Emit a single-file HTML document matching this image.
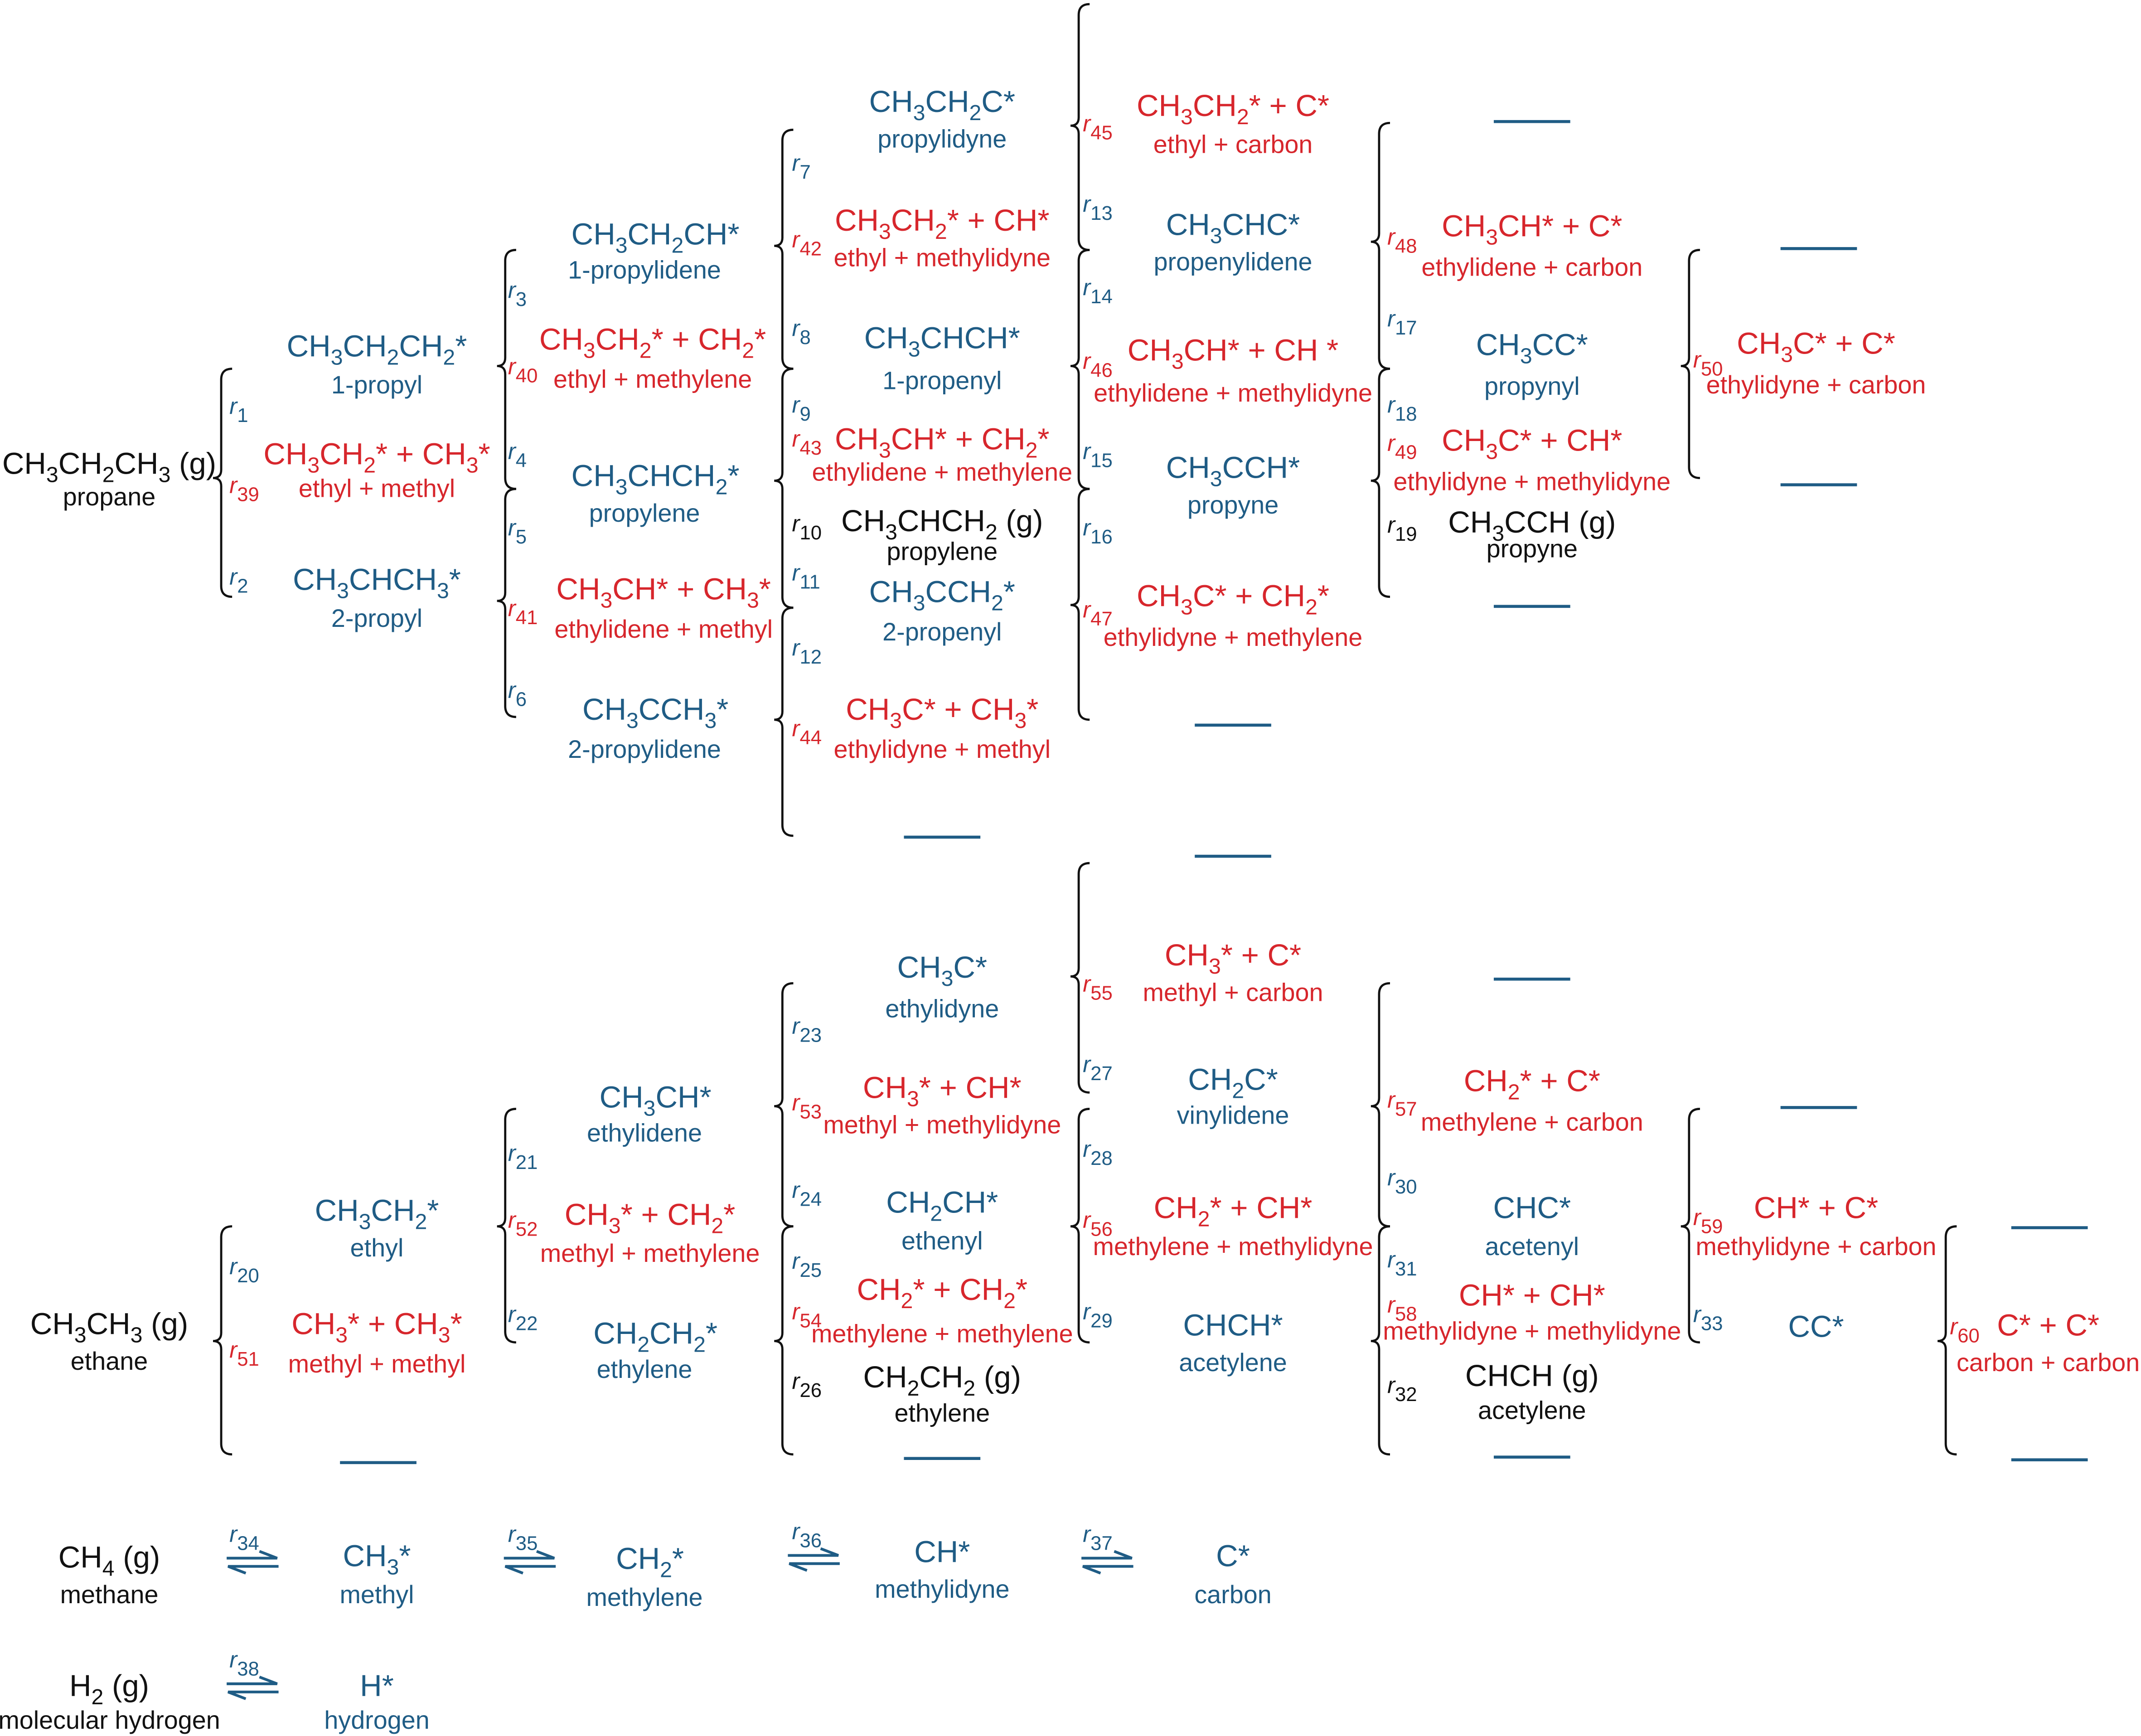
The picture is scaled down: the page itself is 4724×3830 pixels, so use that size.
<!DOCTYPE html>
<html><head><meta charset="utf-8"><style>
html,body{margin:0;padding:0;background:#fff;}
svg{display:block;}
text{font-family:"Liberation Sans",Arial,sans-serif;text-anchor:middle;}
.f{font-size:22.3px;}
.n{font-size:18.5px;}
.b{fill:#1f5c85;}
.r{fill:#d7262c;}
.k{fill:#111;}
.s{font-size:16px;baseline-shift:-6px;}
.rl{font-size:17px;text-anchor:start;}
.rl .i{font-style:italic;}
.rl .s{font-size:14.5px;}
.br{fill:none;stroke:#111;stroke-width:1.6;}
.ln{stroke:#1f5c85;stroke-width:2.2;}
.ar{stroke:#1f5c85;stroke-width:2;fill:none;}
</style></head><body>
<svg width="4724" height="3830" viewBox="0 0 1568 1271.2" xmlns="http://www.w3.org/2000/svg">
<g class="br">
<path d="M170,270 Q162,270 162,278 L162,344 Q162,350 156,350 Q162,350 162,356 L162,429 Q162,437 170,437"/>
<path d="M378,183 Q370,183 370,191 L370,262 Q370,268 364,268 Q370,268 370,274 L370,350 Q370,358 378,358"/>
<path d="M378,358 Q370,358 370,366 L370,434 Q370,440 364,440 Q370,440 370,446 L370,517 Q370,525 378,525"/>
<path d="M581,95 Q573,95 573,103 L573,174 Q573,180 567,180 Q573,180 573,186 L573,262 Q573,270 581,270"/>
<path d="M581,270 Q573,270 573,278 L573,346 Q573,352 567,352 Q573,352 573,358 L573,437 Q573,445 581,445"/>
<path d="M581,445 Q573,445 573,453 L573,521 Q573,527 567,527 Q573,527 573,533 L573,604 Q573,612 581,612"/>
<path d="M798,3 Q790,3 790,11 L790,86 Q790,92 784,92 Q790,92 790,98 L790,175 Q790,183 798,183"/>
<path d="M798,183 Q790,183 790,191 L790,262 Q790,268 784,268 Q790,268 790,274 L790,350 Q790,358 798,358"/>
<path d="M798,358 Q790,358 790,366 L790,437 Q790,443 784,443 Q790,443 790,449 L790,519 Q790,527 798,527"/>
<path d="M1018,90 Q1010,90 1010,98 L1010,171 Q1010,177 1004,177 Q1010,177 1010,183 L1010,262 Q1010,270 1018,270"/>
<path d="M1018,270 Q1010,270 1010,278 L1010,346 Q1010,352 1004,352 Q1010,352 1010,358 L1010,429 Q1010,437 1018,437"/>
<path d="M1245,183 Q1237,183 1237,191 L1237,262 Q1237,268 1231,268 Q1237,268 1237,274 L1237,342 Q1237,350 1245,350"/>

<path d="M170,898 Q162,898 162,906 L162,976 Q162,982 156,982 Q162,982 162,988 L162,1057 Q162,1065 170,1065"/>
<path d="M378,812 Q370,812 370,820 L370,892 Q370,898 364,898 Q370,898 370,904 L370,975 Q370,983 378,983"/>
<path d="M581,720 Q573,720 573,728 L573,804 Q573,810 567,810 Q573,810 573,816 L573,890 Q573,898 581,898"/>
<path d="M581,898 Q573,898 573,906 L573,976 Q573,982 567,982 Q573,982 573,988 L573,1057 Q573,1065 581,1065"/>
<path d="M798,632 Q790,632 790,640 L790,709 Q790,715 784,715 Q790,715 790,721 L790,792 Q790,800 798,800"/>
<path d="M798,812 Q790,812 790,820 L790,892 Q790,898 784,898 Q790,898 790,904 L790,975 Q790,983 798,983"/>
<path d="M1018,720 Q1010,720 1010,728 L1010,804 Q1010,810 1004,810 Q1010,810 1010,816 L1010,890 Q1010,898 1018,898"/>
<path d="M1018,898 Q1010,898 1010,906 L1010,976 Q1010,982 1004,982 Q1010,982 1010,988 L1010,1057 Q1010,1065 1018,1065"/>
<path d="M1245,812 Q1237,812 1237,820 L1237,892 Q1237,898 1231,898 Q1237,898 1237,904 L1237,975 Q1237,983 1245,983"/>
<path d="M1433,898 Q1425,898 1425,906 L1425,976 Q1425,982 1419,982 Q1425,982 1425,988 L1425,1057 Q1425,1065 1433,1065"/>
</g>
<g class="ln">
<line x1="1094" y1="89" x2="1150" y2="89"/>
<line x1="1304" y1="182" x2="1360" y2="182"/>
<line x1="1304" y1="355" x2="1360" y2="355"/>
<line x1="1094" y1="444" x2="1150" y2="444"/>
<line x1="875" y1="531" x2="931" y2="531"/>
<line x1="662" y1="613" x2="718" y2="613"/>
<line x1="249" y1="1071" x2="305" y2="1071"/>
<line x1="662" y1="1068" x2="718" y2="1068"/>
<line x1="875" y1="627" x2="931" y2="627"/>
<line x1="1094" y1="717" x2="1150" y2="717"/>
<line x1="1304" y1="811" x2="1360" y2="811"/>
<line x1="1473" y1="899" x2="1529" y2="899"/>
<line x1="1473" y1="1069" x2="1529" y2="1069"/>
<line x1="1094" y1="1067" x2="1150" y2="1067"/>
</g>
<g class="ar">
<path d="M166,1141 L203,1141 L190,1136"/><path d="M204,1147 L167,1147 L180,1152"/>
<path d="M369,1141 L406,1141 L393,1136"/><path d="M407,1147 L370,1147 L383,1152"/>
<path d="M577,1139 L614,1139 L601,1134"/><path d="M615,1145 L578,1145 L591,1150"/>
<path d="M792,1141 L829,1141 L816,1136"/><path d="M830,1147 L793,1147 L806,1152"/>
<path d="M166,1233 L203,1233 L190,1228"/><path d="M204,1239 L167,1239 L180,1244"/>
</g>

<text class="f k" x="80" y="347">CH<tspan class="s">3</tspan>CH<tspan class="s">2</tspan>CH<tspan class="s">3</tspan> (g)</text>
<text class="n k" x="80" y="370">propane</text>
<text class="f b" x="276" y="261">CH<tspan class="s">3</tspan>CH<tspan class="s">2</tspan>CH<tspan class="s">2</tspan>*</text>
<text class="n b" x="276" y="288">1-propyl</text>
<text class="f r" x="276" y="340">CH<tspan class="s">3</tspan>CH<tspan class="s">2</tspan>* + CH<tspan class="s">3</tspan>*</text>
<text class="n r" x="276" y="364">ethyl + methyl</text>
<text class="f b" x="276" y="432">CH<tspan class="s">3</tspan>CHCH<tspan class="s">3</tspan>*</text>
<text class="n b" x="276" y="459">2-propyl</text>
<text class="f b" x="480" y="179">CH<tspan class="s">3</tspan>CH<tspan class="s">2</tspan>CH*</text>
<text class="n b" x="472" y="204">1-propylidene</text>
<text class="f r" x="478" y="256">CH<tspan class="s">3</tspan>CH<tspan class="s">2</tspan>* + CH<tspan class="s">2</tspan>*</text>
<text class="n r" x="478" y="284">ethyl + methylene</text>
<text class="f b" x="480" y="356">CH<tspan class="s">3</tspan>CHCH<tspan class="s">2</tspan>*</text>
<text class="n b" x="472" y="382">propylene</text>
<text class="f r" x="486" y="439">CH<tspan class="s">3</tspan>CH* + CH<tspan class="s">3</tspan>*</text>
<text class="n r" x="486" y="467">ethylidene + methyl</text>
<text class="f b" x="480" y="527">CH<tspan class="s">3</tspan>CCH<tspan class="s">3</tspan>*</text>
<text class="n b" x="472" y="555">2-propylidene</text>
<text class="f b" x="690" y="82">CH<tspan class="s">3</tspan>CH<tspan class="s">2</tspan>C*</text>
<text class="n b" x="690" y="108">propylidyne</text>
<text class="f r" x="690" y="169">CH<tspan class="s">3</tspan>CH<tspan class="s">2</tspan>* + CH*</text>
<text class="n r" x="690" y="195">ethyl + methylidyne</text>
<text class="f b" x="690" y="255">CH<tspan class="s">3</tspan>CHCH*</text>
<text class="n b" x="690" y="285">1-propenyl</text>
<text class="f r" x="690" y="329">CH<tspan class="s">3</tspan>CH* + CH<tspan class="s">2</tspan>*</text>
<text class="n r" x="690" y="352">ethylidene + methylene</text>
<text class="f k" x="690" y="389">CH<tspan class="s">3</tspan>CHCH<tspan class="s">2</tspan> (g)</text>
<text class="n k" x="690" y="410">propylene</text>
<text class="f b" x="690" y="441">CH<tspan class="s">3</tspan>CCH<tspan class="s">2</tspan>*</text>
<text class="n b" x="690" y="469">2-propenyl</text>
<text class="f r" x="690" y="527">CH<tspan class="s">3</tspan>C* + CH<tspan class="s">3</tspan>*</text>
<text class="n r" x="690" y="555">ethylidyne + methyl</text>
<text class="f r" x="903" y="85">CH<tspan class="s">3</tspan>CH<tspan class="s">2</tspan>* + C*</text>
<text class="n r" x="903" y="112">ethyl + carbon</text>
<text class="f b" x="903" y="172">CH<tspan class="s">3</tspan>CHC*</text>
<text class="n b" x="903" y="198">propenylidene</text>
<text class="f r" x="903" y="264">CH<tspan class="s">3</tspan>CH* + CH *</text>
<text class="n r" x="903" y="294">ethylidene + methylidyne</text>
<text class="f b" x="903" y="350">CH<tspan class="s">3</tspan>CCH*</text>
<text class="n b" x="903" y="376">propyne</text>
<text class="f r" x="903" y="444">CH<tspan class="s">3</tspan>C* + CH<tspan class="s">2</tspan>*</text>
<text class="n r" x="903" y="473">ethylidyne + methylene</text>
<text class="f r" x="1122" y="173">CH<tspan class="s">3</tspan>CH* + C*</text>
<text class="n r" x="1122" y="202">ethylidene + carbon</text>
<text class="f b" x="1122" y="260">CH<tspan class="s">3</tspan>CC*</text>
<text class="n b" x="1122" y="289">propynyl</text>
<text class="f r" x="1122" y="330">CH<tspan class="s">3</tspan>C* + CH*</text>
<text class="n r" x="1122" y="359">ethylidyne + methylidyne</text>
<text class="f k" x="1122" y="390">CH<tspan class="s">3</tspan>CCH (g)</text>
<text class="n k" x="1122" y="408">propyne</text>
<text class="f r" x="1330" y="259">CH<tspan class="s">3</tspan>C* + C*</text>
<text class="n r" x="1330" y="288">ethylidyne + carbon</text>

<text class="f k" x="80" y="977">CH<tspan class="s">3</tspan>CH<tspan class="s">3</tspan> (g)</text>
<text class="n k" x="80" y="1003">ethane</text>
<text class="f b" x="276" y="894">CH<tspan class="s">3</tspan>CH<tspan class="s">2</tspan>*</text>
<text class="n b" x="276" y="920">ethyl</text>
<text class="f r" x="276" y="977">CH<tspan class="s">3</tspan>* + CH<tspan class="s">3</tspan>*</text>
<text class="n r" x="276" y="1005">methyl + methyl</text>
<text class="f b" x="480" y="811">CH<tspan class="s">3</tspan>CH*</text>
<text class="n b" x="472" y="836">ethylidene</text>
<text class="f r" x="476" y="897">CH<tspan class="s">3</tspan>* + CH<tspan class="s">2</tspan>*</text>
<text class="n r" x="476" y="924">methyl + methylene</text>
<text class="f b" x="480" y="984">CH<tspan class="s">2</tspan>CH<tspan class="s">2</tspan>*</text>
<text class="n b" x="472" y="1009">ethylene</text>
<text class="f b" x="690" y="716">CH<tspan class="s">3</tspan>C*</text>
<text class="n b" x="690" y="745">ethylidyne</text>
<text class="f r" x="690" y="804">CH<tspan class="s">3</tspan>* + CH*</text>
<text class="n r" x="690" y="830">methyl + methylidyne</text>
<text class="f b" x="690" y="888">CH<tspan class="s">2</tspan>CH*</text>
<text class="n b" x="690" y="915">ethenyl</text>
<text class="f r" x="690" y="952">CH<tspan class="s">2</tspan>* + CH<tspan class="s">2</tspan>*</text>
<text class="n r" x="690" y="983">methylene + methylene</text>
<text class="f k" x="690" y="1016">CH<tspan class="s">2</tspan>CH<tspan class="s">2</tspan> (g)</text>
<text class="n k" x="690" y="1041">ethylene</text>
<text class="f r" x="903" y="707">CH<tspan class="s">3</tspan>* + C*</text>
<text class="n r" x="903" y="733">methyl + carbon</text>
<text class="f b" x="903" y="798">CH<tspan class="s">2</tspan>C*</text>
<text class="n b" x="903" y="823">vinylidene</text>
<text class="f r" x="903" y="892">CH<tspan class="s">2</tspan>* + CH*</text>
<text class="n r" x="903" y="919">methylene + methylidyne</text>
<text class="f b" x="903" y="978">CHCH*</text>
<text class="n b" x="903" y="1004">acetylene</text>
<text class="f r" x="1122" y="799">CH<tspan class="s">2</tspan>* + C*</text>
<text class="n r" x="1122" y="828">methylene + carbon</text>
<text class="f b" x="1122" y="892">CHC*</text>
<text class="n b" x="1122" y="919">acetenyl</text>
<text class="f r" x="1122" y="956">CH* + CH*</text>
<text class="n r" x="1122" y="981">methylidyne + methylidyne</text>
<text class="f k" x="1122" y="1015">CHCH (g)</text>
<text class="n k" x="1122" y="1039">acetylene</text>
<text class="f r" x="1330" y="892">CH* + C*</text>
<text class="n r" x="1330" y="919">methylidyne + carbon</text>
<text class="f b" x="1330" y="979">CC*</text>
<text class="f r" x="1500" y="978">C* + C*</text>
<text class="n r" x="1500" y="1004">carbon + carbon</text>

<text class="f k" x="80" y="1148">CH<tspan class="s">4</tspan> (g)</text>
<text class="n k" x="80" y="1174">methane</text>
<text class="f b" x="276" y="1147">CH<tspan class="s">3</tspan>*</text>
<text class="n b" x="276" y="1174">methyl</text>
<text class="f b" x="476" y="1149">CH<tspan class="s">2</tspan>*</text>
<text class="n b" x="472" y="1176">methylene</text>
<text class="f b" x="690" y="1144">CH*</text>
<text class="n b" x="690" y="1170">methylidyne</text>
<text class="f b" x="903" y="1147">C*</text>
<text class="n b" x="903" y="1174">carbon</text>
<text class="f k" x="80" y="1242">H<tspan class="s">2</tspan> (g)</text>
<text class="n k" x="80" y="1266">molecular hydrogen</text>
<text class="f b" x="276" y="1242">H*</text>
<text class="n b" x="276" y="1266">hydrogen</text>

<g>
<text class="rl b" x="168" y="303"><tspan class="i">r</tspan><tspan class="s">1</tspan></text>
<text class="rl r" x="168" y="361"><tspan class="i">r</tspan><tspan class="s">39</tspan></text>
<text class="rl b" x="168" y="428"><tspan class="i">r</tspan><tspan class="s">2</tspan></text>
<text class="rl b" x="372" y="218"><tspan class="i">r</tspan><tspan class="s">3</tspan></text>
<text class="rl r" x="372" y="274"><tspan class="i">r</tspan><tspan class="s">40</tspan></text>
<text class="rl b" x="372" y="336"><tspan class="i">r</tspan><tspan class="s">4</tspan></text>
<text class="rl b" x="372" y="392"><tspan class="i">r</tspan><tspan class="s">5</tspan></text>
<text class="rl r" x="372" y="451"><tspan class="i">r</tspan><tspan class="s">41</tspan></text>
<text class="rl b" x="372" y="511"><tspan class="i">r</tspan><tspan class="s">6</tspan></text>
<text class="rl b" x="580" y="125"><tspan class="i">r</tspan><tspan class="s">7</tspan></text>
<text class="rl r" x="580" y="181"><tspan class="i">r</tspan><tspan class="s">42</tspan></text>
<text class="rl b" x="580" y="246"><tspan class="i">r</tspan><tspan class="s">8</tspan></text>
<text class="rl b" x="580" y="302"><tspan class="i">r</tspan><tspan class="s">9</tspan></text>
<text class="rl r" x="580" y="327"><tspan class="i">r</tspan><tspan class="s">43</tspan></text>
<text class="rl k" x="580" y="389"><tspan class="i">r</tspan><tspan class="s">10</tspan></text>
<text class="rl b" x="580" y="425"><tspan class="i">r</tspan><tspan class="s">11</tspan></text>
<text class="rl b" x="580" y="480"><tspan class="i">r</tspan><tspan class="s">12</tspan></text>
<text class="rl r" x="580" y="539"><tspan class="i">r</tspan><tspan class="s">44</tspan></text>
<text class="rl r" x="793" y="96"><tspan class="i">r</tspan><tspan class="s">45</tspan></text>
<text class="rl b" x="793" y="155"><tspan class="i">r</tspan><tspan class="s">13</tspan></text>
<text class="rl b" x="793" y="216"><tspan class="i">r</tspan><tspan class="s">14</tspan></text>
<text class="rl r" x="793" y="270"><tspan class="i">r</tspan><tspan class="s">46</tspan></text>
<text class="rl b" x="793" y="336"><tspan class="i">r</tspan><tspan class="s">15</tspan></text>
<text class="rl b" x="793" y="392"><tspan class="i">r</tspan><tspan class="s">16</tspan></text>
<text class="rl r" x="793" y="452"><tspan class="i">r</tspan><tspan class="s">47</tspan></text>
<text class="rl r" x="1016" y="179"><tspan class="i">r</tspan><tspan class="s">48</tspan></text>
<text class="rl b" x="1016" y="239"><tspan class="i">r</tspan><tspan class="s">17</tspan></text>
<text class="rl b" x="1016" y="302"><tspan class="i">r</tspan><tspan class="s">18</tspan></text>
<text class="rl r" x="1016" y="330"><tspan class="i">r</tspan><tspan class="s">49</tspan></text>
<text class="rl k" x="1016" y="390"><tspan class="i">r</tspan><tspan class="s">19</tspan></text>
<text class="rl r" x="1240" y="269"><tspan class="i">r</tspan><tspan class="s">50</tspan></text>

<text class="rl b" x="168" y="933"><tspan class="i">r</tspan><tspan class="s">20</tspan></text>
<text class="rl r" x="168" y="994"><tspan class="i">r</tspan><tspan class="s">51</tspan></text>
<text class="rl b" x="372" y="850"><tspan class="i">r</tspan><tspan class="s">21</tspan></text>
<text class="rl r" x="372" y="899"><tspan class="i">r</tspan><tspan class="s">52</tspan></text>
<text class="rl b" x="372" y="968"><tspan class="i">r</tspan><tspan class="s">22</tspan></text>
<text class="rl b" x="580" y="757"><tspan class="i">r</tspan><tspan class="s">23</tspan></text>
<text class="rl r" x="580" y="813"><tspan class="i">r</tspan><tspan class="s">53</tspan></text>
<text class="rl b" x="580" y="877"><tspan class="i">r</tspan><tspan class="s">24</tspan></text>
<text class="rl b" x="580" y="929"><tspan class="i">r</tspan><tspan class="s">25</tspan></text>
<text class="rl r" x="580" y="966"><tspan class="i">r</tspan><tspan class="s">54</tspan></text>
<text class="rl k" x="580" y="1017"><tspan class="i">r</tspan><tspan class="s">26</tspan></text>
<text class="rl r" x="793" y="726"><tspan class="i">r</tspan><tspan class="s">55</tspan></text>
<text class="rl b" x="793" y="785"><tspan class="i">r</tspan><tspan class="s">27</tspan></text>
<text class="rl b" x="793" y="847"><tspan class="i">r</tspan><tspan class="s">28</tspan></text>
<text class="rl r" x="793" y="899"><tspan class="i">r</tspan><tspan class="s">56</tspan></text>
<text class="rl b" x="793" y="966"><tspan class="i">r</tspan><tspan class="s">29</tspan></text>
<text class="rl r" x="1016" y="811"><tspan class="i">r</tspan><tspan class="s">57</tspan></text>
<text class="rl b" x="1016" y="868"><tspan class="i">r</tspan><tspan class="s">30</tspan></text>
<text class="rl b" x="1016" y="928"><tspan class="i">r</tspan><tspan class="s">31</tspan></text>
<text class="rl r" x="1016" y="961"><tspan class="i">r</tspan><tspan class="s">58</tspan></text>
<text class="rl k" x="1016" y="1020"><tspan class="i">r</tspan><tspan class="s">32</tspan></text>
<text class="rl r" x="1240" y="897"><tspan class="i">r</tspan><tspan class="s">59</tspan></text>
<text class="rl b" x="1240" y="968"><tspan class="i">r</tspan><tspan class="s">33</tspan></text>
<text class="rl r" x="1428" y="977"><tspan class="i">r</tspan><tspan class="s">60</tspan></text>

<text class="rl b" x="168" y="1129"><tspan class="i">r</tspan><tspan class="s">34</tspan></text>
<text class="rl b" x="372" y="1129"><tspan class="i">r</tspan><tspan class="s">35</tspan></text>
<text class="rl b" x="580" y="1127"><tspan class="i">r</tspan><tspan class="s">36</tspan></text>
<text class="rl b" x="793" y="1129"><tspan class="i">r</tspan><tspan class="s">37</tspan></text>
<text class="rl b" x="168" y="1221"><tspan class="i">r</tspan><tspan class="s">38</tspan></text>
</g>
</svg>
</body></html>
